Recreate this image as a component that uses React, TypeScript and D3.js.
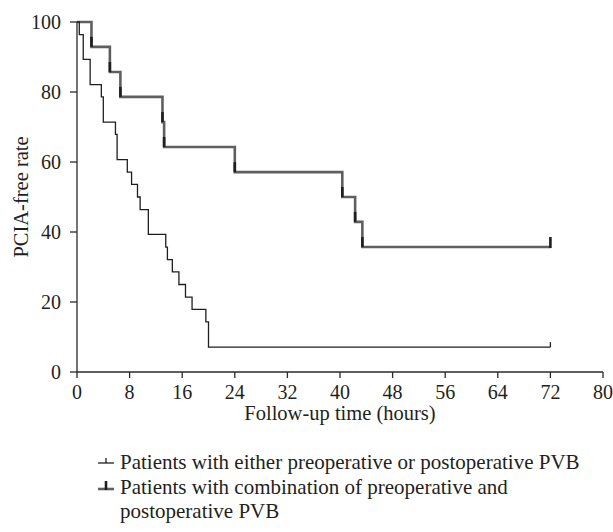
import React from "react";
import * as d3 from "d3";

const xTicks = [0, 8, 16, 24, 32, 40, 48, 56, 64, 72, 80];
const yTicks = [0, 20, 40, 60, 80, 100];

// Patients with either preoperative or postoperative PVB (thin)
const thinTimes = [0, 0.35, 0.95, 2.0, 3.7, 4.0, 5.85, 6.1, 7.65, 8.3, 9.2, 9.6, 10.85, 13.5, 13.75, 14.5, 15.5, 16.5, 17.5, 19.6, 20.0, 72];
const thinValues = [100, 96.4, 89.3, 82.1, 78.6, 71.4, 67.9, 60.7, 57.1, 53.6, 50, 46.4, 39.3, 35.7, 32.1, 28.6, 25, 21.4, 17.9, 14.3, 7.1, 7.1];

// Patients with combination of preoperative and postoperative PVB (thick)
const thickTimes = [0, 2.2, 5.0, 6.6, 13.0, 13.25, 24.0, 40.35, 42.3, 43.4, 72];
const thickValues = [100, 92.9, 85.7, 78.6, 71.4, 64.3, 57.1, 50, 42.9, 35.7, 35.7];

const thinCensor = [72];
const thickCensor = [72];

const legendLabels = [
  ["Patients with either preoperative or postoperative PVB"],
  ["Patients with combination of preoperative and", "postoperative PVB"],
];

const W = 613;
const H = 532;
const FONT = "'Liberation Serif', 'Times New Roman', serif";

export default function App() {
  const x = d3.scaleLinear().domain([0, 80]).range([77, 603]);
  const y = d3.scaleLinear().domain([0, 100]).range([372, 22]);

  const line = d3
    .line<[number, number]>()
    .x((d) => x(d[0]))
    .y((d) => y(d[1]))
    .curve(d3.curveStepAfter);

  const thinPts = thinTimes.map((t, i) => [t, thinValues[i]] as [number, number]);
  const thickPts = thickTimes.map((t, i) => [t, thickValues[i]] as [number, number]);

  // dark lower portions of thick drops
  const thickDrops = thickTimes.slice(1).map((t, i) => ({ t, from: thickValues[i], to: thickValues[i + 1] })).filter((d) => d.from !== d.to);

  const axisColor = "#2a2a2a";
  const textColor = "#231f20";

  return (
    <svg width={W} height={H} style={{ display: "block", position: "absolute", left: 0, top: 0 }}>
      <rect width={W} height={H} fill="#fff" />
      {/* axes */}
      <line x1={x(0)} x2={x(80)} y1={y(0)} y2={y(0)} stroke={axisColor} strokeWidth={1.3} />
      <line x1={x(0)} x2={x(0)} y1={y(0)} y2={y(100)} stroke={axisColor} strokeWidth={1.3} />
      {xTicks.map((t) => (
        <g key={"xt" + t}>
          <line x1={x(t)} x2={x(t)} y1={y(0)} y2={y(0) + 6} stroke={axisColor} strokeWidth={1.3} />
          <text x={x(t)} y={y(0) + 27} textAnchor="middle" fontFamily={FONT} fontSize={20} fill={textColor}>
            {t}
          </text>
        </g>
      ))}
      {yTicks.map((t) => (
        <g key={"yt" + t}>
          <line x1={x(0) - 7} x2={x(0)} y1={y(t)} y2={y(t)} stroke={axisColor} strokeWidth={1.3} />
          <text x={x(0) - 16} y={y(t) + 7} textAnchor="end" fontFamily={FONT} fontSize={20} fill={textColor}>
            {t}
          </text>
        </g>
      ))}
      <text x={(x(0) + x(80)) / 2} y={420} textAnchor="middle" fontFamily={FONT} fontSize={20.5} fill={textColor}>
        Follow-up time (hours)
      </text>
      <text
        transform={`translate(28,${(y(0) + y(100)) / 2}) rotate(-90)`}
        textAnchor="middle"
        fontFamily={FONT}
        fontSize={20.5}
        fill={textColor}
      >
        PCIA-free rate
      </text>

      {/* thick curve */}
      <path d={line(thickPts) || ""} fill="none" stroke="#5f5f5f" strokeWidth={2.6} />
      {thickDrops.map((d, i) => (
        <line
          key={"td" + i}
          x1={x(d.t)}
          x2={x(d.t)}
          y1={y(d.to)}
          y2={Math.max(y(d.to) - 10, y(d.from))}
          stroke="#1e1e1e"
          strokeWidth={2.6}
        />
      ))}
      {thickCensor.map((t) => (
        <line key={"tc" + t} x1={x(t)} x2={x(t)} y1={y(35.7) + 1} y2={y(35.7) - 10} stroke="#1e1e1e" strokeWidth={2.6} />
      ))}

      {/* thin curve */}
      <path d={line(thinPts) || ""} fill="none" stroke="#1f1f1f" strokeWidth={1.3} />
      {thinCensor.map((t) => (
        <line key={"nc" + t} x1={x(t)} x2={x(t)} y1={y(7.1)} y2={y(7.1) - 5} stroke="#1f1f1f" strokeWidth={1.3} />
      ))}

      {/* legend */}
      <g>
        <line x1={98} x2={114} y1={463} y2={463} stroke="#1f1f1f" strokeWidth={1.3} />
        <line x1={106} x2={106} y1={463} y2={458} stroke="#1f1f1f" strokeWidth={1.3} />
        <text x={120} y={469} fontFamily={FONT} fontSize={21} fill={textColor}>
          {legendLabels[0][0]}
        </text>
        <line x1={98} x2={114} y1={489} y2={489} stroke="#5f5f5f" strokeWidth={2.6} />
        <line x1={106} x2={106} y1={490} y2={481} stroke="#1e1e1e" strokeWidth={2.6} />
        <text x={120} y={494} fontFamily={FONT} fontSize={21} fill={textColor}>
          {legendLabels[1][0]}
        </text>
        <text x={120} y={518} fontFamily={FONT} fontSize={21} fill={textColor}>
          {legendLabels[1][1]}
        </text>
      </g>
    </svg>
  );
}
